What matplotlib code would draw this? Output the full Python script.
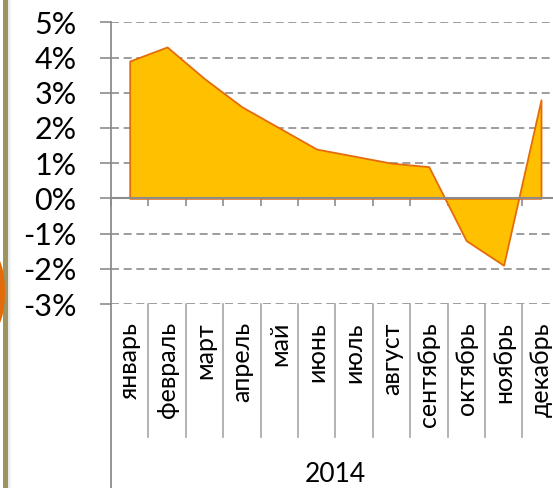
import numpy as np
import matplotlib
matplotlib.use("Agg")
import matplotlib.pyplot as plt
from matplotlib.patches import Ellipse, Rectangle
from matplotlib.transforms import blended_transform_factory

plt.rcParams["font.family"] = ["Lato", "DejaVu Sans"]

months = ["январь", "февраль", "март", "апрель", "май", "июнь",
          "июль", "август", "сентябрь", "октябрь", "ноябрь", "декабрь"]
values = [3.9, 4.3, 3.4, 2.6, 2.0, 1.4, 1.2, 1.0, 0.9, -1.2, -1.9, 2.8]
yticks = [-3, -2, -1, 0, 1, 2, 3, 4, 5]
year = "2014"

FILL = "#FFC000"
EDGE = "#E46C0A"
GREY = "#8C8C8C"

W, H = 553, 488
fig = plt.figure(figsize=(W / 100, H / 100), dpi=100)

# left decoration strip
fig.patches.append(Rectangle((3 / W, 0), 5 / W, 1, transform=fig.transFigure,
                             facecolor="#9E9462", edgecolor="none"))
for i, a in enumerate([0.18, 0.12, 0.07, 0.03]):
    fig.patches.append(Rectangle(((8 + i) / W, 0), 1 / W, 1, transform=fig.transFigure,
                                 facecolor="#808080", alpha=a, edgecolor="none"))
fig.patches.append(Ellipse((-6 / W, 1 - 292 / H), 22 / W, 74 / H, transform=fig.transFigure,
                           facecolor="#E36C0A", edgecolor="none"))

left, right, top, bottom = 111, 559.7, 22.3, 304
ax = fig.add_axes([left / W, 1 - bottom / H, (right - left) / W, (bottom - top) / H])

x = np.arange(len(months)) + 0.5
ax.fill_between(x, values, 0, facecolor=FILL, edgecolor=EDGE, linewidth=1.3, zorder=2)

ax.set_xlim(0, len(months))
ax.set_ylim(-3, 5)
ax.set_yticks(yticks)
ax.set_yticklabels([f"{v}%" for v in yticks])
ax.yaxis.grid(True, color=GREY, linestyle=(0, (4.8, 2.8)), linewidth=1.2, zorder=1)
ax.set_axisbelow(True)

for s in ["top", "right"]:
    ax.spines[s].set_visible(False)
ax.spines["left"].set_color(GREY)
ax.spines["left"].set_linewidth(1.3)
ax.spines["bottom"].set_position(("data", 0))
ax.spines["bottom"].set_color(GREY)
ax.spines["bottom"].set_linewidth(1.5)
ax.spines["bottom"].set_zorder(3)

ax.set_xticks(np.arange(len(months) + 1))
ax.set_xticklabels([])
ax.tick_params(axis="x", direction="out", length=5.5, width=1.2, color=GREY)
ax.tick_params(axis="y", direction="out", length=7.7, width=1.2, color=GREY,
               pad=17, labelsize=22)

tr = blended_transform_factory(ax.transData, ax.transAxes)
for xi, m in zip(x, months):
    ax.text(xi, -0.064, m, rotation=90, ha="center", va="top", fontsize=18,
            transform=tr, clip_on=False)
for b in range(1, len(months) + 1):
    ax.plot([b, b], [0, -0.472], color="#A6A6A6", linewidth=1.2,
            transform=tr, clip_on=False)
ax.plot([0, 0], [0, -0.66], color=GREY, linewidth=1.3, transform=tr, clip_on=False)
ax.text(len(months) / 2, -0.632, year, ha="center", va="baseline", fontsize=19,
        transform=tr, clip_on=False)

fig.savefig("out.png", dpi=100)
